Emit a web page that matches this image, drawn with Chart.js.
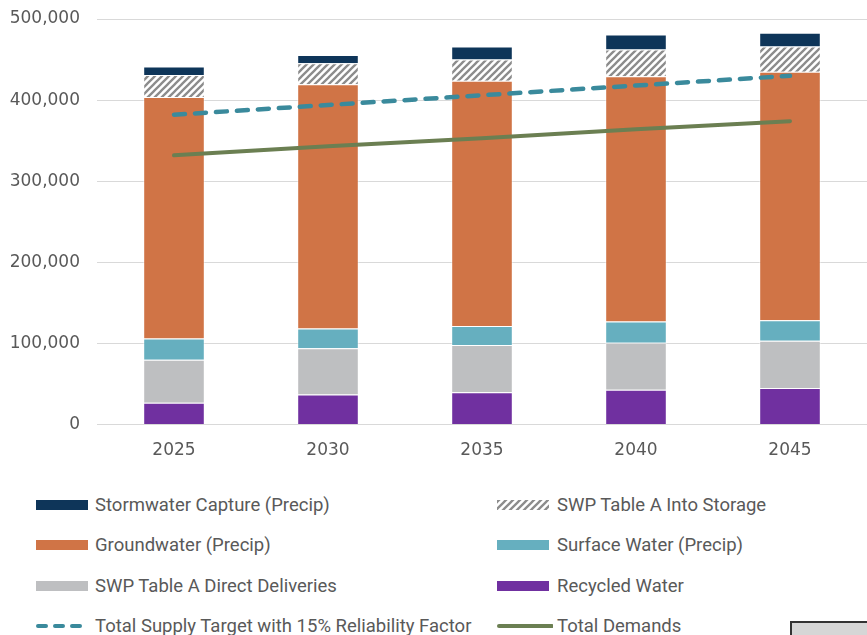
<!DOCTYPE html>
<html>
<head>
<meta charset="utf-8">
<script src="https://cdn.jsdelivr.net/npm/chart.js@4"></script>
<style>
  body { margin: 0; background: #fff; width: 867px; height: 635px; overflow: hidden; position: relative; }
  #wrap { position: absolute; left: 0; top: 0; width: 867px; height: 487px; }
  #legend { position: absolute; left: 0; top: 490px; width: 867px; font-family: Roboto, "DejaVu Sans", sans-serif; font-size: 18.5px; color: #595959; }
  .item { position: absolute; height: 20px; line-height: 20px; white-space: nowrap; }
  .item canvas { position: absolute; left: 0; top: 0; }
  .item span { position: absolute; top: 0; }
  #corner { position: absolute; left: 790px; top: 621px; width: 80px; height: 20px; border: 2px solid #333; background: #d6d6d6; }
</style>
</head>
<body>
<div id="wrap"><canvas id="supplyChart"></canvas></div>
<div id="legend"></div>
<div id="corner"></div>
<script>
  // values (acre-feet per year)
  const years = ["2025", "2030", "2035", "2040", "2045"];
  const recycled = [27000, 37000, 40000, 43000, 45000];
  const swpDirect = [53000, 57000, 58000, 58000, 58500];
  const surfaceWater = [26000, 24500, 23500, 26000, 25000];
  const groundwater = [298000, 301000, 302500, 302500, 306500];
  const swpStorage = [27000, 26000, 26000, 33000, 31000];
  const stormwater = [10500, 10000, 16000, 18500, 17000];
  const supplyTarget = [382000, 394000, 406000, 418000, 430000];
  const totalDemands = [332000, 343000, 353000, 364000, 374000];
  const yTicks = [0, 100000, 200000, 300000, 400000, 500000];

  const tickFont = { family: "DejaVu Sans", size: 17 };

  function hatch() {
    const c = document.createElement("canvas");
    c.width = c.height = 7;
    const x = c.getContext("2d");
    x.fillStyle = "#fff";
    x.fillRect(0, 0, 7, 7);
    x.strokeStyle = "#8c8c8c";
    x.lineWidth = 2.3;
    x.beginPath();
    x.moveTo(-1, 8); x.lineTo(8, -1);
    x.moveTo(-1, 1); x.lineTo(1, -1);
    x.moveTo(6, 8); x.lineTo(8, 6);
    x.stroke();
    return x.createPattern(c, "repeat");
  }
  const hatchFill = hatch();

  function bar(label, data, color) {
    return {
      type: "bar", label: label, data: data, backgroundColor: color,
      borderColor: "rgba(255,255,255,0.5)", borderWidth: 1,
      stack: "supply", order: 1, barPercentage: 0.4, categoryPercentage: 1
    };
  }

  const datasets = [
    bar("Recycled Water", recycled, "#7030a0"),
    bar("SWP Table A Direct Deliveries", swpDirect, "#bebfc1"),
    bar("Surface Water (Precip)", surfaceWater, "#66afbf"),
    bar("Groundwater (Precip)", groundwater, "#d07446"),
    bar("SWP Table A Into Storage", swpStorage, hatchFill),
    bar("Stormwater Capture (Precip)", stormwater, "#0e3559"),
    {
      type: "line", label: "Total Supply Target with 15% Reliability Factor", data: supplyTarget,
      borderColor: "#3a8a9c", borderWidth: 4.5, borderDash: [11, 10], borderCapStyle: "round",
      pointRadius: 0, fill: false, stack: "target", order: 0
    },
    {
      type: "line", label: "Total Demands", data: totalDemands,
      borderColor: "#6b7f52", borderWidth: 4, borderCapStyle: "round",
      pointRadius: 0, fill: false, stack: "demand", order: 0
    }
  ];

  const chart = new Chart(document.getElementById("supplyChart"), {
    type: "bar",
    data: { labels: years, datasets: datasets },
    options: {
      responsive: true, maintainAspectRatio: false, animation: false, devicePixelRatio: 1,
      layout: { padding: { top: 19, right: 0, bottom: 10, left: 0 } },
      plugins: { legend: { display: false }, tooltip: { enabled: false } },
      scales: {
        x: {
          stacked: true,
          grid: { display: false, drawTicks: false },
          border: { display: false },
          ticks: { color: "#595959", font: tickFont, padding: 16 }
        },
        y: {
          stacked: true, min: 0, max: 500000,
          afterBuildTicks: s => { s.ticks = yTicks.map(v => ({ value: v })); },
          afterFit: s => { s.width = 97; s.paddingTop = 0; s.paddingBottom = 0; },
          grid: { color: "#d9d9d9", lineWidth: 1, drawTicks: false },
          border: { display: false },
          ticks: { color: "#595959", font: tickFont, padding: 17,
                   callback: v => v.toLocaleString("en-US") }
        }
      }
    }
  });

  // two-column legend under the chart
  const legendOrder = [
    "Stormwater Capture (Precip)", "SWP Table A Into Storage",
    "Groundwater (Precip)", "Surface Water (Precip)",
    "SWP Table A Direct Deliveries", "Recycled Water",
    "Total Supply Target with 15% Reliability Factor", "Total Demands"
  ];
  const legend = document.getElementById("legend");
  legendOrder.forEach((name, i) => {
    const ds = chart.data.datasets.find(d => d.label === name);
    const col = i % 2, row = Math.floor(i / 2);
    const item = document.createElement("div");
    item.className = "item";
    item.style.left = (col ? 497 : 36) + "px";
    item.style.top = (row * 40.3 + 5) + "px";
    const sw = document.createElement("canvas");
    sw.width = 56; sw.height = 20;
    const g = sw.getContext("2d");
    if (ds.type === "line") {
      g.strokeStyle = ds.borderColor;
      g.lineWidth = 4;
      g.lineCap = "round";
      if (ds.borderDash) g.setLineDash([8, 9]);
      g.beginPath(); g.moveTo(2, 10); g.lineTo(ds.borderDash ? 52 : 55, 10); g.stroke();
    } else {
      g.fillStyle = ds.backgroundColor;
      g.fillRect(0, 5, 52, 10);
    }
    item.appendChild(sw);
    const t = document.createElement("span");
    t.style.left = (col ? 60 : 59) + "px";
    t.textContent = name;
    item.appendChild(t);
    legend.appendChild(item);
  });
</script>
</body>
</html>
